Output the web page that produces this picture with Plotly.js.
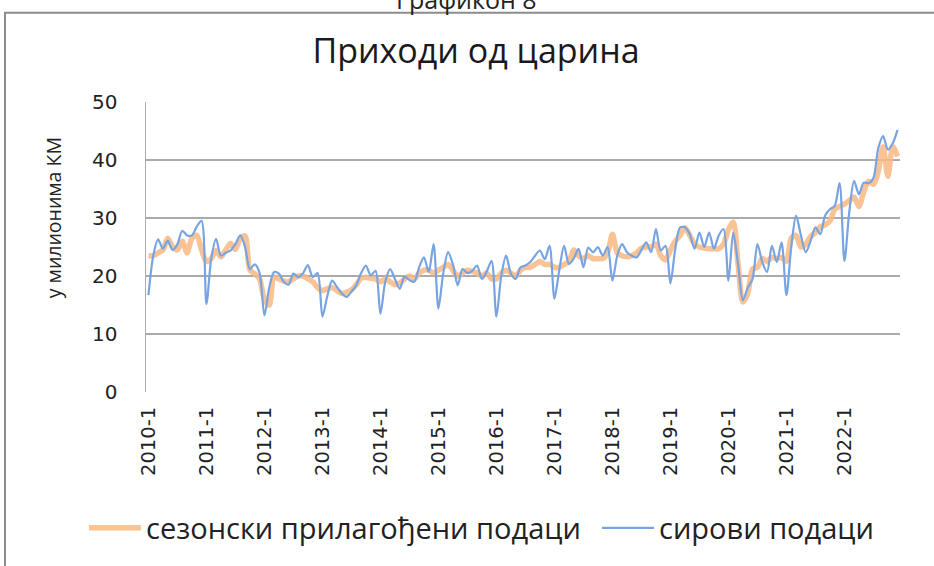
<!DOCTYPE html>
<html>
<head>
<meta charset="utf-8">
<script src="https://cdn.plot.ly/plotly-3.0.1.min.js"></script>
<style>
  html, body { margin: 0; padding: 0; background: #ffffff; }
  #chart { width: 934px; height: 566px; }
</style>
</head>
<body>
<div id="chart"></div>
<script>
// Years and months of the monthly series (2010-1 ... 2022-12)
const years = [2010, 2011, 2012, 2013, 2014, 2015, 2016, 2017, 2018, 2019, 2020, 2021, 2022];
const months = [1, 2, 3, 4, 5, 6, 7, 8, 9, 10, 11, 12];

// Seasonally adjusted data (у милионима КМ)
const seasonallyAdjusted = [
  23.5, 23.5, 24.0, 24.5, 26.5, 25.0, 24.5, 26.0, 24.0, 26.5, 27.0, 24.5,
  22.5, 23.0, 24.4, 23.3, 24.5, 25.6, 24.6, 26.5, 26.9, 21.0, 20.4, 19.5,
  16.0, 15.0, 19.8, 19.5, 19.1, 19.0, 19.5, 20.0, 20.0, 19.5, 19.0, 18.0,
  17.5, 17.8, 18.0, 17.5, 17.0, 17.2, 17.6, 18.5, 19.6, 19.8, 19.6, 19.5,
  19.0, 19.5, 19.0, 18.5, 18.8, 19.5, 20.0, 19.5, 20.5, 21.0, 21.0, 20.5,
  21.0, 21.5, 22.0, 21.0, 20.0, 20.5, 21.0, 20.8, 20.5, 20.0, 20.5, 19.5,
  19.5, 20.5, 21.0, 20.5, 20.0, 21.0, 21.5, 21.5, 22.0, 22.5, 22.0, 22.0,
  21.5, 21.5, 22.0, 22.5, 24.5, 23.5, 23.0, 23.5, 23.0, 23.0, 23.0, 24.0,
  27.2, 24.0, 23.5, 23.3, 23.5, 24.0, 24.8, 25.0, 25.0, 25.5, 23.5, 22.8,
  24.5, 26.0, 27.0, 28.3, 27.0, 25.5, 25.0, 24.8, 24.7, 24.7, 24.7, 25.5,
  28.0, 29.3, 22.0, 15.5, 17.0, 21.2, 21.5, 23.0, 22.5, 23.2, 23.0, 23.2,
  22.5, 26.5, 27.0, 25.0, 25.5, 26.8, 27.5, 28.5, 28.8, 29.5, 31.5, 32.0,
  32.4, 33.0, 33.6, 32.0, 34.5, 36.3, 35.8, 38.0, 42.3, 37.2, 42.3, 40.6
];

// Raw data (у милионима КМ)
const rawData = [
  16.7, 23.5, 26.3, 24.7, 26.1, 24.5, 25.5, 27.8, 27.0, 27.0, 28.5, 29.5,
  15.2, 23.0, 26.4, 23.5, 24.0, 24.4, 25.5, 27.0, 25.0, 21.2, 22.0, 20.5,
  13.2, 18.0, 20.7, 20.4, 19.0, 18.5, 20.4, 19.8, 20.5, 21.9, 19.8, 20.5,
  13.0, 16.5, 19.2, 18.1, 17.0, 16.4, 17.3, 18.4, 20.5, 21.8, 20.1, 20.9,
  13.5, 19.0, 21.2, 19.5, 17.8, 19.9, 19.3, 19.0, 21.5, 23.2, 20.7, 25.5,
  14.4, 20.5, 24.1, 22.0, 18.4, 21.2, 20.5, 20.9, 21.8, 19.5, 20.8, 22.6,
  13.0, 20.0, 23.5, 20.4, 19.5, 21.5, 21.8, 22.4, 23.5, 24.4, 22.9, 25.2,
  16.1, 21.0, 25.2, 22.1, 23.0, 24.7, 21.5, 24.9, 24.1, 25.0, 23.5, 25.0,
  19.2, 23.5, 25.5, 24.1, 23.5, 23.2, 24.5, 25.8, 24.1, 28.1, 24.4, 25.2,
  18.7, 24.7, 28.4, 28.4, 27.2, 24.7, 27.5, 25.0, 27.5, 24.7, 27.0, 28.1,
  19.2, 27.5, 22.0, 15.8, 18.0, 19.5, 25.5, 22.4, 20.7, 25.2, 22.4, 25.8,
  16.7, 25.0, 30.4, 27.0, 24.1, 26.0, 28.4, 27.2, 30.4, 31.5, 32.1, 36.0,
  22.6, 31.0, 36.4, 34.1, 36.1, 36.0, 36.9, 42.0, 44.1, 41.8, 42.9, 45.2
];

const yTicks = [0, 10, 20, 30, 40, 50];

// Category labels "YYYY-M"
const categories = [];
years.forEach(y => months.forEach(m => categories.push(y + '-' + m)));
const xTickVals = years.map(y => y + '-1');

const FONT = 'Open Sans, Noto Sans, DejaVu Sans, sans-serif';
const TICKFONT = 'DejaVu Sans, Verdana, sans-serif';

const traces = [
  {
    type: 'scatter', mode: 'lines',
    name: 'сезонски прилагођени подаци',
    legend: 'legend',
    x: categories, y: seasonallyAdjusted,
    line: { color: 'rgba(248,184,130,0.85)', width: 5.5, shape: 'spline', smoothing: 0.8 },
    hoverinfo: 'x+y'
  },
  {
    type: 'scatter', mode: 'lines',
    name: 'сирови подаци',
    legend: 'legend2',
    x: categories, y: rawData,
    line: { color: '#78a4e2', width: 2.2, shape: 'spline', smoothing: 0.8 },
    hoverinfo: 'x+y'
  }
];

const legendFont = { family: FONT, size: 29, color: '#222222' };

const layout = {
  width: 934, height: 566,
  margin: { l: 146, r: 34, t: 102, b: 172 },
  paper_bgcolor: '#ffffff', plot_bgcolor: '#ffffff',
  font: { family: FONT, color: '#222222' },
  showlegend: true,
  title: {
    text: 'Приходи од царина',
    font: { family: FONT, size: 34, color: '#1a1a1a' },
    x: 476 / 934, xref: 'container', xanchor: 'center',
    y: 49, yref: 'container', yanchor: 'middle'
  },
  xaxis: {
    type: 'category',
    categoryorder: 'array', categoryarray: categories,
    range: [-0.5, categories.length - 0.5],
    tickmode: 'array', tickvals: xTickVals, ticktext: xTickVals,
    tickangle: -90,
    tickfont: { family: TICKFONT, size: 19.5, color: '#222222' },
    showgrid: false, zeroline: false,
    showline: false, ticks: '', ticklen: 0,
    ticklabelstandoff: 10,
    automargin: false
  },
  yaxis: {
    range: [0, 50],
    tickmode: 'array', tickvals: yTicks,
    tickfont: { family: TICKFONT, size: 20, color: '#222222' },
    showgrid: true, gridcolor: '#ababab', gridwidth: 1.5,
    zeroline: false,
    showline: true, linecolor: '#ababab', linewidth: 1.5,
    ticks: '', ticklabelstandoff: 23,
    automargin: false
  },
  legend: {
    orientation: 'h',
    x: (84 - 146) / 754, xanchor: 'left',
    y: -0.469, yanchor: 'middle',
    font: legendFont,
    itemwidth: 52,
    bgcolor: 'rgba(0,0,0,0)'
  },
  legend2: {
    orientation: 'h',
    x: (597 - 146) / 754, xanchor: 'left',
    y: -0.469, yanchor: 'middle',
    font: legendFont,
    itemwidth: 52,
    bgcolor: 'rgba(0,0,0,0)'
  },
  annotations: [
    {
      text: 'Графикон 8',
      xref: 'paper', yref: 'paper',
      x: 0.4257, y: 1.356, xanchor: 'center', yanchor: 'middle',
      showarrow: false,
      font: { family: FONT, size: 25, color: '#222222' }
    },
    {
      text: 'у милионима КМ',
      xref: 'paper', yref: 'paper',
      x: -0.123, y: 0.60, xanchor: 'center', yanchor: 'middle',
      textangle: -90,
      showarrow: false,
      font: { family: FONT, size: 19.5, color: '#222222' }
    }
  ],
  shapes: [
    {
      type: 'rect', xref: 'paper', yref: 'paper',
      x0: -0.187, x1: 1.6, y0: -1.5, y1: 1.308,
      line: { color: '#8c8c8c', width: 2 },
      fillcolor: 'rgba(0,0,0,0)',
      layer: 'below'
    }
  ]
};

Plotly.newPlot('chart', traces, layout, { displayModeBar: false, staticPlot: true });
</script>
</body>
</html>
